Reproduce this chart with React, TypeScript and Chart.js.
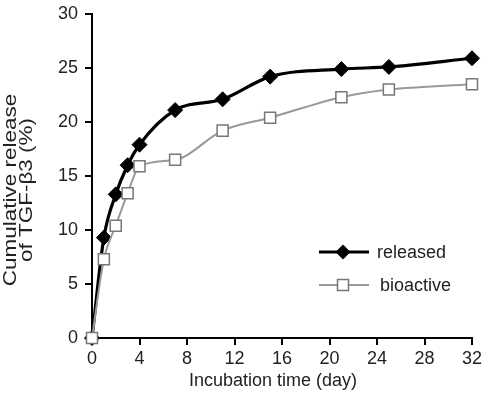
import React, { useEffect, useRef } from "react";
import { Chart, registerables } from "chart.js";

Chart.register(...registerables);

const days = [0, 1, 2, 3, 4, 7, 11, 15, 21, 25, 32];
const released = [0, 9.3, 13.3, 16.0, 17.9, 21.1, 22.1, 24.2, 24.9, 25.1, 25.9];
const bioactive = [0, 7.3, 10.4, 13.4, 15.9, 16.5, 19.2, 20.4, 22.3, 23.0, 23.5];
const seriesNames = ["released", "bioactive"];
const xTitle = "Incubation time (day)";
const yTitle = ["Cumulative release", "of TGF-\u03b23 (%)"];

const FONT = "'Liberation Sans', Arial, sans-serif";
const TEXT = "#222";

const overlayPlugin = {
  id: "overlay",
  afterDraw(chart: any) {
    const ctx = chart.ctx as CanvasRenderingContext2D;
    ctx.save();
    // legend
    ctx.font = `18px ${FONT}`;
    ctx.textBaseline = "middle";
    ctx.textAlign = "left";
    const lx0 = 319, lx1 = 369, mx = 343;
    // released
    let y = 252;
    ctx.strokeStyle = "#000";
    ctx.lineWidth = 3;
    ctx.beginPath();
    ctx.moveTo(lx0, y);
    ctx.lineTo(lx1, y);
    ctx.stroke();
    ctx.fillStyle = "#000";
    ctx.beginPath();
    ctx.moveTo(mx - 7.5, y);
    ctx.lineTo(mx, y - 7.5);
    ctx.lineTo(mx + 7.5, y);
    ctx.lineTo(mx, y + 7.5);
    ctx.closePath();
    ctx.fill();
    ctx.fillStyle = TEXT;
    ctx.fillText(seriesNames[0], 377, y + 1);
    // bioactive
    y = 285;
    ctx.strokeStyle = "#999";
    ctx.lineWidth = 2;
    ctx.beginPath();
    ctx.moveTo(lx0, y);
    ctx.lineTo(lx1, y);
    ctx.stroke();
    ctx.fillStyle = "#fff";
    ctx.strokeStyle = "#777";
    ctx.lineWidth = 1.5;
    ctx.beginPath();
    ctx.rect(mx - 5.5, y - 5.5, 11, 11);
    ctx.fill();
    ctx.stroke();
    ctx.fillStyle = TEXT;
    ctx.fillText(seriesNames[1], 380, y + 1);

    // x title
    ctx.textAlign = "center";
    ctx.fillText(xTitle, 273, 381);

    // y title (stretched along its length)
    ctx.translate(0, 190);
    ctx.rotate(-Math.PI / 2);
    ctx.scale(1.25, 1);
    ctx.fillText(yTitle[0], 0, 11);
    ctx.fillText(yTitle[1], 0, 27);
    ctx.restore();
  },
};

export default function App() {
  const ref = useRef<HTMLCanvasElement>(null);
  useEffect(() => {
    if (!ref.current) return;
    const chart = new Chart(ref.current, {
      type: "line",
      data: {
        datasets: [
          {
            label: seriesNames[0],
            data: days.map((d, i) => ({ x: d, y: released[i] })),
            borderColor: "#000",
            backgroundColor: "#000",
            borderWidth: 3.2,
            pointStyle: "rectRot",
            pointRadius: 7.5,
            pointBackgroundColor: "#000",
            pointBorderColor: "#000",
            pointBorderWidth: 1,
            cubicInterpolationMode: "monotone",
            clip: false,
            order: 1,
          },
          {
            label: seriesNames[1],
            data: days.map((d, i) => ({ x: d, y: bioactive[i] })),
            borderColor: "#999",
            backgroundColor: "#fff",
            borderWidth: 2,
            pointStyle: "rect",
            pointRadius: 7.8,
            pointBackgroundColor: "#fff",
            pointBorderColor: "#777",
            pointBorderWidth: 1.5,
            cubicInterpolationMode: "monotone",
            clip: false,
            order: 0,
          },
        ],
      },
      options: {
        responsive: false,
        animation: false,
        layout: { padding: { top: 14, right: 18, left: 0, bottom: 0 } },
        plugins: { legend: { display: false }, tooltip: { enabled: false } },
        scales: {
          x: {
            type: "linear",
            min: 0,
            max: 32,
            afterFit: (s: any) => {
              s.height = 60;
              s.paddingLeft = 0;
              s.paddingRight = 0;
            },
            ticks: {
              stepSize: 4,
              color: TEXT,
              font: { family: FONT, size: 18 },
              padding: 3,
              maxRotation: 0,
            },
            grid: {
              drawOnChartArea: false,
              drawTicks: true,
              tickLength: 7,
              color: "#000",
              lineWidth: 2,
            },
            border: { color: "#000", width: 2 },
          },
          y: {
            type: "linear",
            min: 0,
            max: 30,
            afterFit: (s: any) => {
              s.width = 92;
              s.paddingTop = 0;
              s.paddingBottom = 0;
            },
            ticks: {
              stepSize: 5,
              color: TEXT,
              font: { family: FONT, size: 18 },
              padding: 7,
            },
            grid: {
              drawOnChartArea: false,
              drawTicks: true,
              tickLength: 7,
              color: "#000",
              lineWidth: 2,
            },
            border: { color: "#000", width: 2 },
          },
        },
      },
      plugins: [overlayPlugin],
    });
    return () => chart.destroy();
  }, []);
  return (
    <div style={{ position: "absolute", left: 0, top: 0, width: 490, height: 398, background: "#fff" }}>
      <canvas ref={ref} width={490} height={398} style={{ display: "block" }} />
    </div>
  );
}
